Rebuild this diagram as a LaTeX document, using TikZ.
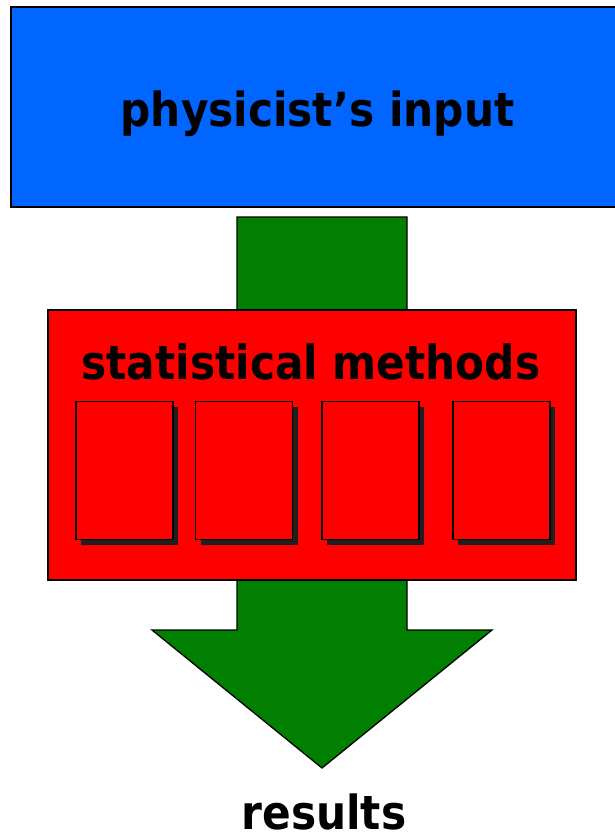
\documentclass[tikz,border=0pt]{standalone}
\usepackage{fontspec}
\newfontfamily\boldsans{DejaVu Sans Condensed}
\usepackage{xcolor}
\usetikzlibrary{positioning, shadows}

\definecolor{inputblue}{HTML}{0066FF}
\definecolor{arrowgreen}{HTML}{007F00}
\definecolor{methred}{HTML}{FF0000}

\begin{document}
\begin{tikzpicture}[
  x=1pt, y=-1pt,
  panel/.style={rectangle, draw=black, line width=1.8pt, inner sep=0pt},
  slot/.style={rectangle, draw=black, line width=1.5pt, fill=methred,
               minimum width=97pt, minimum height=138pt, inner sep=0pt,
               general shadow={fill=black!88, shadow xshift=5pt,
                               shadow yshift=-5pt}},
  label/.style={font=\boldsans\bfseries\fontsize{47}{56}\selectfont,
                anchor=base, inner sep=0pt},
  flow/.style={fill=arrowgreen, draw=black, line width=1.3pt}
]
\useasboundingbox (0,0) rectangle (615,837);

\node[panel, fill=inputblue, minimum width=614pt, minimum height=200pt]
  (input) at (318,107) {};
\node[label] (inputtext) at (317.5,127) {physicist’s input};

% big arrow behind the methods box
\coordinate (tip) at (322,768);
\filldraw[flow] (237,217) -- (407,217) -- (407,630) -- (492,630) -- (tip)
  -- (152,630) -- (237,630) -- cycle;

\node[panel, fill=methred, minimum width=528pt, minimum height=270pt]
  (methods) at (312,445) {};
\node[label] (methodstext) at (311,379) {statistical methods};

\node[slot] (m1) at (124.5,470.5) {};
\node[slot] (m2) at (244,470.5) {};
\node[slot] (m3) at (370.5,470.5) {};
\node[slot] (m4) at (501.5,470.5) {};

\node[label] (results) at (324,829) {results};

\end{tikzpicture}
\end{document}
